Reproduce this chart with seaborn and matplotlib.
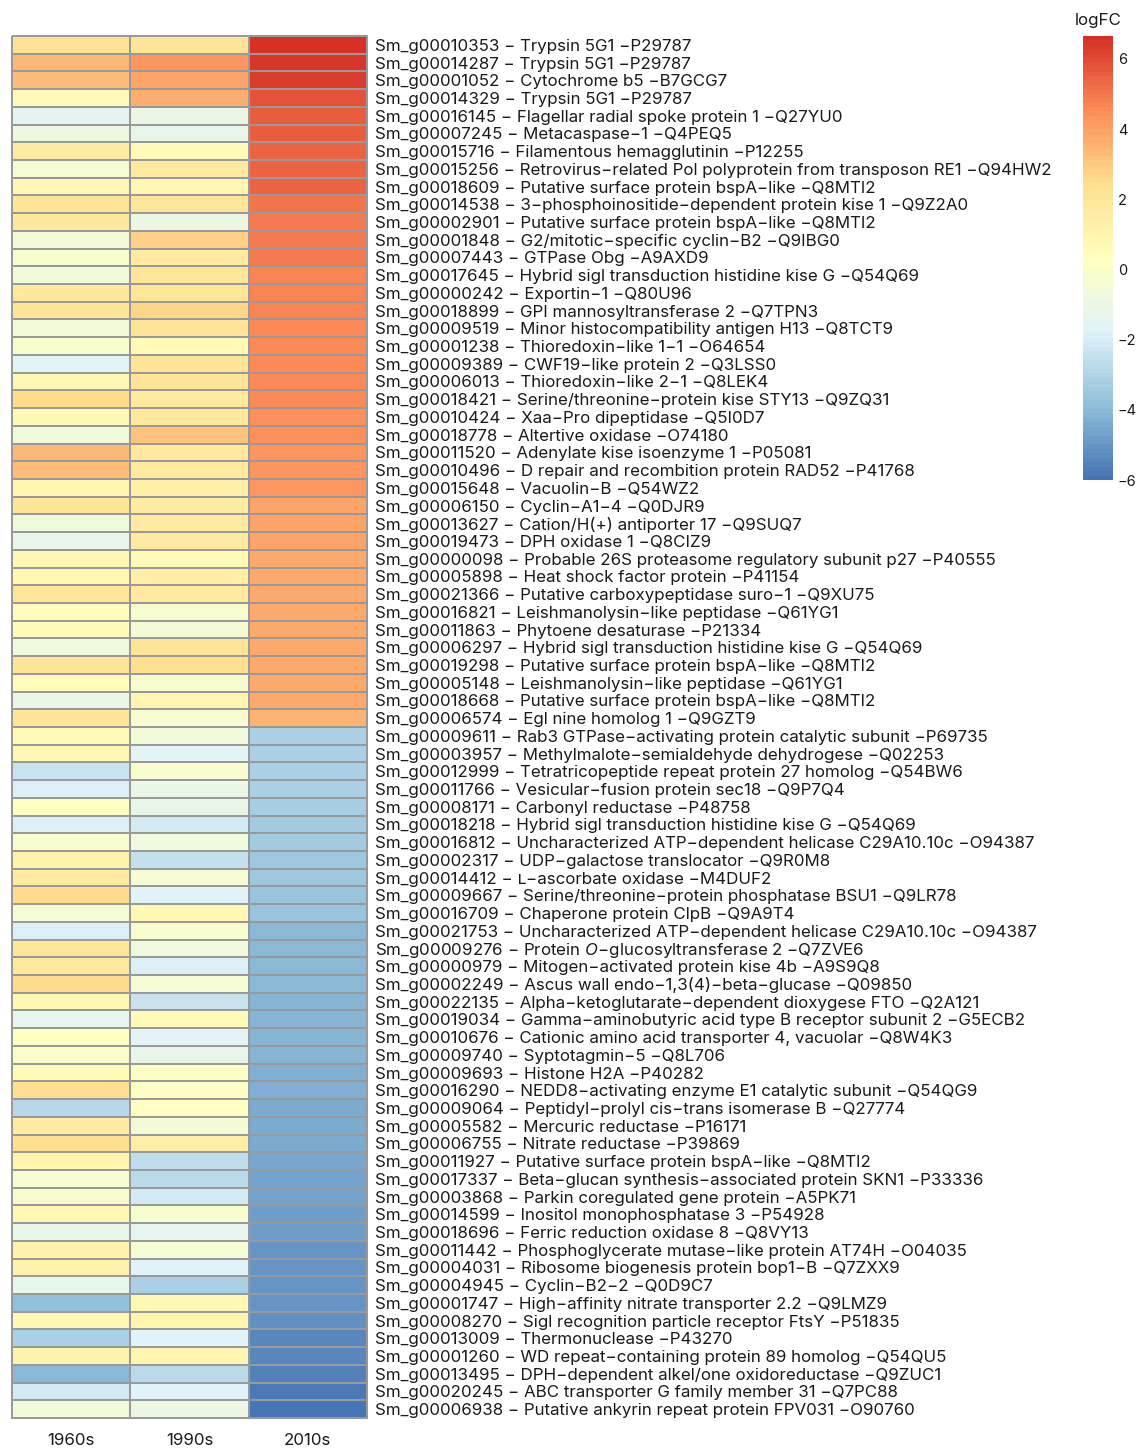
import numpy as np
import pandas as pd
import matplotlib
matplotlib.use("Agg")
import matplotlib.pyplot as plt
from matplotlib.colors import LinearSegmentedColormap
import seaborn as sns

genes = [
    "Sm_g00010353 − Trypsin 5G1 −P29787",
    "Sm_g00014287 − Trypsin 5G1 −P29787",
    "Sm_g00001052 − Cytochrome b5 −B7GCG7",
    "Sm_g00014329 − Trypsin 5G1 −P29787",
    "Sm_g00016145 − Flagellar radial spoke protein 1 −Q27YU0",
    "Sm_g00007245 − Metacaspase−1 −Q4PEQ5",
    "Sm_g00015716 − Filamentous hemagglutinin −P12255",
    "Sm_g00015256 − Retrovirus−related Pol polyprotein from transposon RE1 −Q94HW2",
    "Sm_g00018609 − Putative surface protein bspA−like −Q8MTI2",
    "Sm_g00014538 − 3−phosphoinositide−dependent protein kise 1 −Q9Z2A0",
    "Sm_g00002901 − Putative surface protein bspA−like −Q8MTI2",
    "Sm_g00001848 − G2/mitotic−specific cyclin−B2 −Q9IBG0",
    "Sm_g00007443 − GTPase Obg −A9AXD9",
    "Sm_g00017645 − Hybrid sigl transduction histidine kise G −Q54Q69",
    "Sm_g00000242 − Exportin−1 −Q80U96",
    "Sm_g00018899 − GPI mannosyltransferase 2 −Q7TPN3",
    "Sm_g00009519 − Minor histocompatibility antigen H13 −Q8TCT9",
    "Sm_g00001238 − Thioredoxin−like 1−1 −O64654",
    "Sm_g00009389 − CWF19−like protein 2 −Q3LSS0",
    "Sm_g00006013 − Thioredoxin−like 2−1 −Q8LEK4",
    "Sm_g00018421 − Serine/threonine−protein kise STY13 −Q9ZQ31",
    "Sm_g00010424 − Xaa−Pro dipeptidase −Q5I0D7",
    "Sm_g00018778 − Altertive oxidase −O74180",
    "Sm_g00011520 − Adenylate kise isoenzyme 1 −P05081",
    "Sm_g00010496 − D repair and recombition protein RAD52 −P41768",
    "Sm_g00015648 − Vacuolin−B −Q54WZ2",
    "Sm_g00006150 − Cyclin−A1−4 −Q0DJR9",
    "Sm_g00013627 − Cation/H(+) antiporter 17 −Q9SUQ7",
    "Sm_g00019473 − DPH oxidase 1 −Q8CIZ9",
    "Sm_g00000098 − Probable 26S proteasome regulatory subunit p27 −P40555",
    "Sm_g00005898 − Heat shock factor protein −P41154",
    "Sm_g00021366 − Putative carboxypeptidase suro−1 −Q9XU75",
    "Sm_g00016821 − Leishmanolysin−like peptidase −Q61YG1",
    "Sm_g00011863 − Phytoene desaturase −P21334",
    "Sm_g00006297 − Hybrid sigl transduction histidine kise G −Q54Q69",
    "Sm_g00019298 − Putative surface protein bspA−like −Q8MTI2",
    "Sm_g00005148 − Leishmanolysin−like peptidase −Q61YG1",
    "Sm_g00018668 − Putative surface protein bspA−like −Q8MTI2",
    "Sm_g00006574 − Egl nine homolog 1 −Q9GZT9",
    "Sm_g00009611 − Rab3 GTPase−activating protein catalytic subunit −P69735",
    "Sm_g00003957 − Methylmalote−semialdehyde dehydrogese −Q02253",
    "Sm_g00012999 − Tetratricopeptide repeat protein 27 homolog −Q54BW6",
    "Sm_g00011766 − Vesicular−fusion protein sec18 −Q9P7Q4",
    "Sm_g00008171 − Carbonyl reductase −P48758",
    "Sm_g00018218 − Hybrid sigl transduction histidine kise G −Q54Q69",
    "Sm_g00016812 − Uncharacterized ATP−dependent helicase C29A10.10c −O94387",
    "Sm_g00002317 − UDP−galactose translocator −Q9R0M8",
    "Sm_g00014412 − ʟ−ascorbate oxidase −M4DUF2",
    "Sm_g00009667 − Serine/threonine−protein phosphatase BSU1 −Q9LR78",
    "Sm_g00016709 − Chaperone protein ClpB −Q9A9T4",
    "Sm_g00021753 − Uncharacterized ATP−dependent helicase C29A10.10c −O94387",
    "Sm_g00009276 − Protein $\\mathit{O}$−glucosyltransferase 2 −Q7ZVE6",
    "Sm_g00000979 − Mitogen−activated protein kise 4b −A9S9Q8",
    "Sm_g00002249 − Ascus wall endo−1,3(4)−beta−glucase −Q09850",
    "Sm_g00022135 − Alpha−ketoglutarate−dependent dioxygese FTO −Q2A121",
    "Sm_g00019034 − Gamma−aminobutyric acid type B receptor subunit 2 −G5ECB2",
    "Sm_g00010676 − Cationic amino acid transporter 4, vacuolar −Q8W4K3",
    "Sm_g00009740 − Syptotagmin−5 −Q8L706",
    "Sm_g00009693 − Histone H2A −P40282",
    "Sm_g00016290 − NEDD8−activating enzyme E1 catalytic subunit −Q54QG9",
    "Sm_g00009064 − Peptidyl−prolyl cis−trans isomerase B −Q27774",
    "Sm_g00005582 − Mercuric reductase −P16171",
    "Sm_g00006755 − Nitrate reductase −P39869",
    "Sm_g00011927 − Putative surface protein bspA−like −Q8MTI2",
    "Sm_g00017337 − Beta−glucan synthesis−associated protein SKN1 −P33336",
    "Sm_g00003868 − Parkin coregulated gene protein −A5PK71",
    "Sm_g00014599 − Inositol monophosphatase 3 −P54928",
    "Sm_g00018696 − Ferric reduction oxidase 8 −Q8VY13",
    "Sm_g00011442 − Phosphoglycerate mutase−like protein AT74H −O04035",
    "Sm_g00004031 − Ribosome biogenesis protein bop1−B −Q7ZXX9",
    "Sm_g00004945 − Cyclin−B2−2 −Q0D9C7",
    "Sm_g00001747 − High−affinity nitrate transporter 2.2 −Q9LMZ9",
    "Sm_g00008270 − Sigl recognition particle receptor FtsY −P51835",
    "Sm_g00013009 − Thermonuclease −P43270",
    "Sm_g00001260 − WD repeat−containing protein 89 homolog −Q54QU5",
    "Sm_g00013495 − DPH−dependent alkel/one oxidoreductase −Q9ZUC1",
    "Sm_g00020245 − ABC transporter G family member 31 −Q7PC88",
    "Sm_g00006938 − Putative ankyrin repeat protein FPV031 −O90760",
]

decades = ["1960s", "1990s", "2010s"]

logfc_1960s = [2.3, 3.4, 3.3, 0.6, -1.5, -0.9, 1.7, -0.4, 0.8, 2.1,
               1.9, -0.5, -0.3, -0.6, 1.9, 2.2, -0.6, -0.1, -1.6, 0.8,
               2.5, 0.8, -0.7, 3.4, 3.3, 1.0, 2.2, -0.8, -1.3, 0.9,
               0.9, 2.0, 0.5, 0.5, -0.8, 2.1, 0.5, -1.1, 2.2, 0.6,
               0.9, -2.4, -1.9, 0.2, -1.9, -0.2, 1.1, 1.6, 2.5, -0.4,
               -1.9, 2.0, 1.9, 2.6, 0.9, -1.4, 0.3, 0.0, 0.6, 2.4,
               -2.9, 1.6, 2.4, 1.0, -0.4, -0.1, 0.9, -1.3, 1.2, 1.1,
               -1.3, -3.8, 0.9, -3.2, 1.1, -4.1, -2.1, -0.6]

logfc_1990s = [2.2, 4.3, 3.9, 3.7, -1.0, -1.3, 0.6, 1.8, 0.9, 2.0,
               -1.0, 2.8, 1.7, 2.0, 2.0, 2.7, 2.1, 0.7, 2.1, 2.2,
               1.8, 1.9, 3.2, 1.9, 1.8, 1.4, 1.6, 1.6, 1.7, 0.7,
               1.5, 1.8, -0.2, -0.5, 2.1, 2.4, -0.3, 1.0, -0.3, -0.6,
               -1.6, -0.3, -1.1, -1.3, -2.2, -0.8, -2.5, -0.4, -1.7, 0.8,
               -0.3, -0.8, -1.9, -0.4, -2.4, 0.6, -1.6, -1.3, 0.1, 0.1,
               0.2, -0.5, 1.5, -2.6, -2.8, -2.1, -0.2, -1.4, -0.4, -1.7,
               -3.1, 0.8, 1.0, -1.7, 1.0, -2.8, -1.7, -1.0]

logfc_2010s = [6.65, 6.45, 6.3, 5.85, 5.6, 5.55, 5.5, 5.45, 5.4, 5.05,
               5.0, 5.0, 4.95, 4.75, 4.7, 4.7, 4.6, 4.6, 4.55, 4.5,
               4.5, 4.45, 4.45, 4.35, 4.3, 4.3, 3.95, 3.95, 3.9, 3.85,
               3.85, 3.85, 3.8, 3.8, 3.8, 3.8, 3.8, 3.75, 3.5, -3.1,
               -3.1, -3.2, -3.2, -3.3, -3.4, -3.4, -3.5, -3.5, -3.6, -3.6,
               -4.0, -4.0, -4.1, -4.1, -4.2, -4.2, -4.2, -4.2, -4.3, -4.3,
               -4.4, -4.4, -4.4, -4.5, -4.7, -4.7, -4.8, -4.8, -5.0, -5.0,
               -5.1, -5.1, -5.2, -5.4, -5.4, -5.6, -5.8, -6.0]

cbar_ticks = [-6, -4, -2, 0, 2, 4, 6]

df = pd.DataFrame({decades[0]: logfc_1960s,
                   decades[1]: logfc_1990s,
                   decades[2]: logfc_2010s}, index=genes)

palette = ["#4575B4", "#91BFDB", "#E0F3F8", "#FFFFBF", "#FEE090", "#FC8D59", "#D73027"]
cmap = LinearSegmentedColormap.from_list("rdylbu7", palette, N=100)

sns.set_theme(style="white")
plt.rcParams["font.family"] = ["Inter", "DejaVu Sans"]
plt.rcParams["mathtext.fontset"] = "custom"
plt.rcParams["mathtext.it"] = "Inter:italic"
plt.rcParams["mathtext.rm"] = "Inter"

W, H = 1140, 1449
fig = plt.figure(figsize=(W / 100, H / 100), dpi=100)
ax = fig.add_axes([12 / W, 1 - 1418 / H, 355 / W, 1382 / H])
cax = fig.add_axes([1083 / W, 1 - 480 / H, 30 / W, 444 / H])

vmin = float(np.min(df.values))
vmax = float(np.max(df.values))

sns.heatmap(df, ax=ax, cmap=cmap, vmin=vmin, vmax=vmax,
            linewidths=1.4, linecolor="#999999",
            cbar_ax=cax, cbar_kws={"ticks": cbar_ticks},
            xticklabels=decades, yticklabels=genes)

FS = 12.2
ax.collections[0].set_clip_on(False)
ax.yaxis.tick_right()
ax.set_yticklabels(genes, rotation=0, ha="left", fontsize=FS, color="#1a1a1a")
ax.set_xticklabels(decades, rotation=0, fontsize=FS, color="#1a1a1a")
ax.tick_params(axis="y", length=0, pad=6)
ax.tick_params(axis="x", length=0, pad=10.5)
ax.set_xlabel("")
ax.set_ylabel("")

cbar = ax.collections[0].colorbar
cbar.outline.set_visible(False)
cax.tick_params(length=0, pad=3.5, labelsize=10.5, colors="#1a1a1a")
cax.set_yticklabels([str(t) if t >= 0 else "−" + str(-t) for t in cbar_ticks])
cax.set_title("logFC", fontsize=FS, color="#1a1a1a", pad=8)

fig.savefig("out.png", dpi=100)
